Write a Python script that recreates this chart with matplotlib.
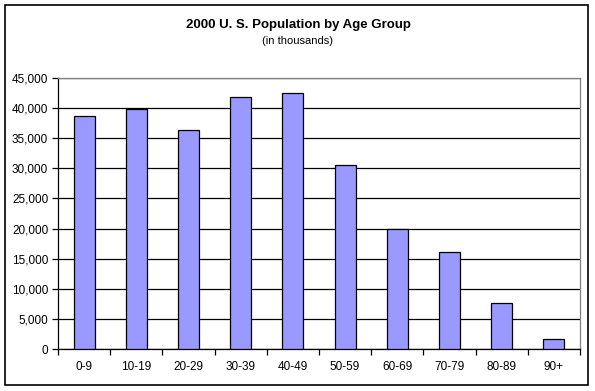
import numpy as np
import matplotlib
matplotlib.use("Agg")
from matplotlib import pyplot as plt
from matplotlib.patches import Rectangle
from matplotlib.ticker import FuncFormatter, FixedLocator

age_groups = ["0-9", "10-19", "20-29", "30-39", "40-49",
              "50-59", "60-69", "70-79", "80-89", "90+"]
population = [38640, 39850, 36320, 41790, 42460,
              30550, 19980, 16050, 7580, 1610]

plt.rcParams["font.family"] = ["Liberation Sans", "DejaVu Sans"]

W, H = 595, 391
fig = plt.figure(figsize=(W / 100, H / 100), dpi=100)

# outer chart frame
fig.patches.append(Rectangle((5 / W, 1 - 385 / H), 583 / W, 380 / H,
                             transform=fig.transFigure, fill=False,
                             edgecolor="black", linewidth=1.2))

ax = fig.add_axes([58 / W, 1 - 349 / H, 522 / W, 271 / H])
x = np.arange(len(age_groups))
ax.bar(x, population, width=0.4, color="#9999ff", edgecolor="black",
       linewidth=0.9, zorder=3)

ax.set_xlim(-0.5, len(age_groups) - 0.5)
ax.set_ylim(0, 45000)
ax.set_yticks(np.arange(0, 45001, 5000))
ax.yaxis.set_major_formatter(FuncFormatter(lambda v, p: f"{int(v):,}"))
ax.grid(axis="y", color="black", linewidth=0.9, zorder=1)

ax.set_xticks(x)
ax.set_xticklabels(age_groups)
ax.xaxis.set_minor_locator(FixedLocator(np.arange(-0.5, len(age_groups), 1.0)))
ax.tick_params(axis="x", which="major", length=0, pad=9, labelsize=8.5)
ax.tick_params(axis="x", which="minor", length=4, width=0.9, direction="out")
ax.tick_params(axis="y", length=4, width=0.9, direction="out", pad=3, labelsize=8.5)

for side in ("top", "right"):
    ax.spines[side].set_color("#808080")
    ax.spines[side].set_linewidth(0.9)
for side in ("left", "bottom"):
    ax.spines[side].set_color("black")
    ax.spines[side].set_linewidth(0.9)

fig.text(298 / W, 1 - 25 / H, "2000 U. S. Population by Age Group",
         ha="center", va="center", fontsize=9.5, fontweight="bold")
fig.text(298 / W, 1 - 41 / H, "(in thousands)",
         ha="center", va="center", fontsize=8)

fig.savefig("out.png", dpi=100)
